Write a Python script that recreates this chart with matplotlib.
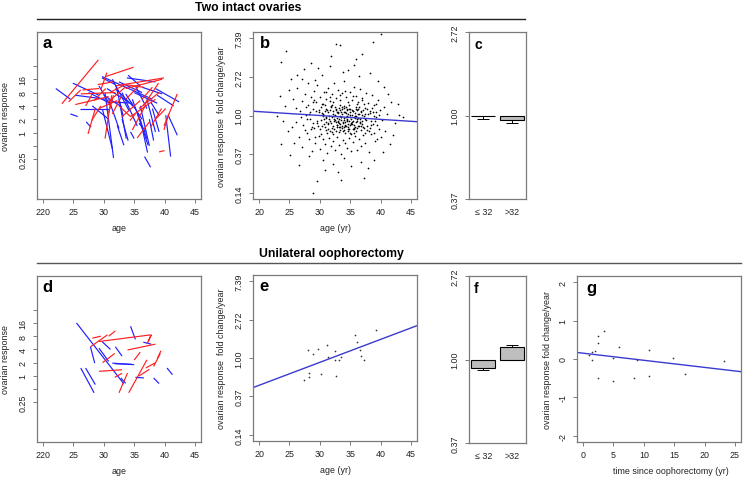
import matplotlib
matplotlib.use("Agg")
import matplotlib.pyplot as plt
from matplotlib.lines import Line2D
import numpy as np

plt.rcParams['font.family'] = ['Liberation Sans', 'DejaVu Sans']

# ---------------- data ----------------
age_ticks = [20, 25, 30, 35, 40, 45]
age_tick_labels = ['220', '25', '30', '35', '40', '45']
resp_ticks = [-2, -1, 0, 1, 2, 3, 4, 5]          # log2 of ovarian response
resp_tick_labels = ['0.25', '', '1', '2', '4', '8', '16', '']
fold_ticks = [-2, -1, 0, 1, 2]                    # ln of fold change/year
fold_tick_labels = ['0.14', '0.37', '1.00', '2.72', '7.39']
bar_groups = ['\u2264 32', '>32']

# panel a: individual trajectories (age, log2 response)
a_red = [
    ([23.1, 29.1], [2.16, 5.45]), ([24.2, 26.2], [2.3, 3.2]), ([30.3, 34.9], [4.2, 4.9]),
    ([31.9, 39.9], [3.5, 4.1]), ([27.4, 28.6], [-0.1, 1.8]), ([30.2, 31.3], [-0.45, 2.8]),
    ([34.7, 36.8], [0.2, 2.0]), ([37.7, 39.5], [0.4, 1.8]), ([39.9, 42.1], [0.5, 2.9]),
    ([39.1, 40.0], [-1.45, -1.35]), ([32.5, 34.4, 38.5], [2.0, 1.2, 2.5]), ([28.4, 30.3], [2.4, 3.3]),
    ([25.3, 30.8], [2.1, 2.7]), ([26.2, 31.9], [2.9, 3.0]), ([39.9, 40.7], [0.2, 1.4]),
    ([33.6, 39.6], [3.3, 4.0]), ([33.6, 35.8], [2.5, 3.5]), ([29.2, 32.2], [1.8, 2.4]),
    ([31.4, 33.0], [1.4, 2.8]), ([35.8, 39.1], [1.8, 3.0]), ([34.3, 35.2], [0.9, 1.4]),
    ([26.5, 29.2], [3.2, 3.3]), ([36.3, 38.0], [2.5, 3.4]), ([29.0, 31.5], [3.6, 3.8]),
    ([38.5, 40.2], [1.0, 1.8]), ([30.8, 31.6], [1.5, 2.8]), ([31.0, 33.5, 36.5], [3.0, 3.6, 3.4]),
    ([28.0, 29.5], [0.9, 2.0]), ([33.0, 36.0], [1.2, 2.4]), ([36.5, 39.0], [2.0, 3.7]),
    ([30.5, 33.5], [2.2, 3.4]), ([27.0, 28.0], [2.0, 2.8]), ([35.5, 37.5], [-0.4, 0.8]),
    ([29.5, 30.5], [3.2, 4.5]),
]
a_blue = [
    ([22.1, 24.5], [3.3, 2.5]), ([24.5, 25.7], [1.4, 1.2]), ([24.9, 29.2], [3.7, 2.8]),
    ([29.7, 38.0], [4.2, 2.5]), ([31.4, 34.2], [4.0, 1.6]), ([30.2, 31.6], [3.0, -1.9]),
    ([29.8, 31.4], [1.7, -1.2]), ([32.5, 33.7], [2.5, -0.45]), ([34.7, 37.3], [2.5, -0.95]),
    ([36.7, 37.7], [-1.8, -2.6]), ([40.2, 41.0], [1.3, -1.8]), ([40.6, 42.1], [1.3, -0.2]),
    ([38.5, 42.4], [3.3, 2.3]), ([33.8, 38.5], [4.1, 3.8]), ([26.0, 30.8], [1.8, 1.8]),
    ([27.1, 27.9], [0.8, 0.4]), ([35.8, 36.9], [0.7, 0.05]), ([25.3, 30.3], [2.8, 2.5]),
    ([29.7, 31.9], [4.1, 3.6]), ([31.9, 35.2], [3.3, 1.8]), ([33.6, 36.3], [2.9, 1.0]),
    ([37.1, 38.5], [2.5, 0.05]), ([37.7, 39.1], [2.3, 1.3]), ([30.8, 32.5], [2.5, 0.3]),
    ([29.2, 31.1], [3.5, 2.0]), ([32.2, 33.3], [0.55, -0.95]), ([35.5, 37.1], [1.5, -0.45]),
    ([34.4, 35.0], [0.05, -0.45]), ([36.3, 39.6], [3.4, 2.9]), ([30.5, 34.1], [3.3, 2.3]),
    ([28.1, 30.8], [2.0, 1.0]), ([38.0, 39.1], [1.8, 0.05]), ([32.5, 36.3], [3.8, 3.0]),
    ([31.4, 34.7], [2.3, 2.2]), ([35.2, 37.1], [3.5, 1.8]), ([36.0, 37.2], [1.0, -1.5]),
    ([33.0, 34.0], [1.0, -0.6]), ([36.0, 37.5], [2.0, -1.0]), ([33.0, 35.5], [3.0, 0.5]),
    ([37.5, 38.2], [1.0, -0.6]), ([27.5, 31.0], [3.0, 2.2]), ([34.0, 36.0], [4.3, 3.5]),
    ([38.8, 41.5], [2.8, 2.0]), ([30.0, 33.0], [2.8, 1.9]), ([35.0, 38.8], [3.0, 2.2]),
    ([32.0, 33.2], [3.5, 1.2]),
]

# panel b: per-patient fold change/year (ln) vs age
b_age = [
    30.2, 30.5, 30.8, 31.0, 31.1, 31.3, 31.4, 31.6, 31.7, 31.9, 32.0, 32.1, 32.2, 32.3, 32.4, 32.5, 32.6, 32.7, 32.8, 32.9,
    33.0, 33.0, 33.1, 33.2, 33.3, 33.4, 33.5, 33.5, 33.6, 33.7, 33.8, 33.9, 34.0, 34.0, 34.1, 34.2, 34.3, 34.4, 34.5, 34.6,
    34.7, 34.8, 34.9, 35.0, 35.1, 35.2, 35.3, 35.4, 35.5, 35.6, 35.7, 35.8, 35.9, 36.0, 36.1, 36.2, 36.3, 36.5, 36.6, 36.8,
    37.0, 37.2, 37.4, 30.4, 30.9, 31.2, 31.5, 31.8, 32.2, 32.5, 32.9, 33.3, 33.6, 34.0, 34.3, 34.6, 34.9, 35.2, 35.5, 35.9,
    36.3, 36.7, 37.1, 37.5, 30.6, 31.4, 32.0, 32.7, 33.4, 34.2, 34.8, 35.6, 36.4, 33.1, 33.9, 34.4, 35.0, 33.2, 34.1, 34.7,
    32.4, 33.7, 35.3, 36.0, 31.0, 32.8, 34.5, 35.8, 36.9, 30.0,
    25.6, 26.0, 26.3, 26.5, 26.8, 27.0, 27.1, 27.3, 27.5, 27.7, 27.9, 28.0, 28.1, 28.3, 28.4, 28.6, 28.7, 28.9, 29.0, 29.1,
    29.2, 29.4, 29.5, 29.6, 29.8, 29.9, 30.0, 30.1, 30.3, 30.5, 30.7, 30.8, 31.0, 31.2, 31.3, 31.5, 31.6, 31.8, 32.0, 32.1,
    32.3, 32.5, 32.6, 32.8, 33.0, 33.1, 33.3, 33.5, 33.6, 33.8, 34.0, 34.1, 34.3, 34.5, 34.6, 34.8, 35.0, 35.1, 35.3, 35.5,
    35.6, 35.8, 36.0, 36.1, 36.3, 36.5, 36.6, 36.8, 37.0, 37.1, 37.3, 37.5, 37.6, 37.8, 38.0, 38.1, 38.3, 38.5, 38.6, 38.8,
    39.0, 39.1, 39.3, 39.5, 39.7, 39.9, 40.1, 40.3, 40.5, 40.8, 41.0, 37.9, 38.4, 38.9, 39.4, 39.8, 37.7, 38.2, 38.7, 39.2,
    26.9, 27.6, 28.2, 28.8, 29.3, 29.7, 30.2, 30.9, 31.7, 36.2, 36.9, 37.4, 35.4, 34.2, 33.4, 32.2, 31.1, 29.0, 28.5, 27.8,
    40.1, 38.7, 24.5, 23.6, 32.7, 33.4, 37.0, 34.7, 29.7, 29.6, 28.9, 33.5, 37.3, 43.1, 41.6, 23.6, 25.1, 23.0, 23.4, 43.7,
    24.2, 24.8, 25.3, 26.2, 27.4, 28.6, 30.4, 31.6, 33.8, 35.6, 36.4, 38.2, 39.6, 40.6, 41.8, 42.3, 42.0, 40.4, 39.0, 36.8,
    35.2, 34.0, 32.1, 30.6, 28.2, 26.6, 25.8, 24.9, 31.9, 35.9, 27.0, 29.2, 42.8, 41.3, 24.0, 37.9, 33.0, 30.9, 26.1, 25.4,
    31.05, 31.35, 31.65, 31.95, 32.15, 32.45, 32.75, 33.05, 33.25, 33.45, 33.65, 33.85, 34.05, 34.25, 34.45, 34.65, 34.85, 35.05, 35.25, 35.45,
    35.65, 35.85, 36.05, 36.25, 36.45, 36.65, 36.85, 37.05, 37.25, 37.45, 30.35, 30.65, 30.95, 31.25, 31.55, 31.85, 32.05, 32.35, 32.65, 32.95,
    33.15, 33.35, 33.55, 33.75, 33.95, 34.15, 34.35, 34.55, 34.75, 34.95, 35.15, 35.35, 35.55, 35.75, 35.95, 36.15, 36.35, 36.55, 36.75, 36.95,
    29.55, 29.85, 30.15, 30.45, 30.75, 37.65, 37.85, 38.05, 38.25, 38.45, 28.35, 28.65, 28.95, 29.25, 38.65, 38.85, 39.05, 39.25, 39.45, 27.85,
]
b_fold = [
    -0.12, 0.05, -0.31, 0.18, -0.05, -0.22, 0.09, -0.40, -0.14, 0.21, -0.03, -0.27, 0.12, -0.09, -0.36, 0.02, -0.18, 0.15, -0.07, -0.29,
    0.06, -0.15, -0.42, 0.19, -0.02, -0.23, 0.10, -0.11, -0.33, 0.03, -0.19, 0.24, -0.06, -0.38, 0.08, -0.16, -0.26, 0.13, -0.01, -0.30,
    0.05, -0.13, -0.45, 0.17, -0.08, -0.21, 0.01, -0.35, 0.11, -0.04, -0.25, 0.07, -0.17, -0.40, 0.14, -0.10, -0.28, 0.03, -0.20, 0.09,
    -0.14, -0.33, 0.04, -0.26, 0.12, -0.44, 0.00, -0.20, -0.48, 0.23, 0.08, -0.31, 0.16, 0.20, -0.04, -0.21, 0.09, -0.47, -0.15, 0.18,
    -0.06, -0.37, 0.15, -0.09, -0.02, -0.34, 0.27, -0.40, 0.28, -0.46, 0.26, -0.32, 0.22, -0.08, -0.12, -0.09, -0.24, -0.20, -0.28, -0.36,
    -0.13, -0.26, -0.18, -0.01, -0.17, -0.24, 0.16, -0.29, -0.22, -0.35,
    0.42, -0.18, 0.71, -0.55, 0.12, 0.38, -0.82, -0.25, 0.55, 0.02, -0.44, 0.85, 0.28, -0.61, -0.09, 0.47, -0.93, 0.18, -0.33, 0.64,
    -0.70, 0.35, -0.15, 0.78, -0.52, 0.08, 0.49, -0.86, 0.31, -0.60, 0.60, -0.75, 0.42, -0.97, 0.70, -0.58, 0.37, -0.80, 0.55, -0.66,
    0.83, -0.90, 0.44, -0.55, 0.66, -0.77, 0.39, -0.99, 0.58, -0.63, 0.88, -0.71, 0.47, -0.84, 0.34, -0.57, 0.62, -0.92, 0.41, -0.69,
    0.75, -0.53, 0.51, -0.88, 0.36, -0.62, 0.68, -0.79, 0.45, -0.51, 0.29, -0.72, 0.57, -0.38, 0.33, -0.95, 0.12, -0.48, 0.52, -0.21,
    0.26, -0.66, -0.05, 0.40, -0.34, 0.15, -0.56, -0.12, 0.22, -0.41, 0.05, 0.05, -0.15, -0.02, -0.25, 0.02, -0.28, -0.32, 0.10, 0.08,
    -0.05, -0.38, 0.05, -0.20, 0.12, -0.28, 0.22, 0.28, 0.48, 0.30, 0.40, -0.45, 0.50, 0.63, 0.52, 0.35, 0.62, 0.40, -0.35, 0.22,
    2.12, 1.89, 1.67, 1.39, 1.86, 1.82, 1.58, 1.17, 1.22, -1.70, -2.00, -1.66, -1.62, 0.01, -0.73, -0.73, -1.02, 0.00, 0.50, -0.03,
    0.25, -0.40, 0.95, 1.05, 1.20, 1.35, 1.05, 1.28, 1.12, 1.30, 1.02, 1.10, 0.90, 0.75, 0.35, -0.20, -0.50, -0.95, -1.15, -1.20,
    -1.30, -1.10, -1.25, -1.15, -1.05, -1.28, -0.70, 0.65, 1.55, 1.45, 0.95, 0.92, 0.30, 0.55, -0.15, -1.35, -1.45, -1.40, 0.20, -0.30,
    -0.06, -0.19, 0.14, -0.33, 0.04, -0.11, -0.25, 0.10, -0.38, -0.03, 0.21, -0.16, -0.29, 0.07, -0.12, -0.41, 0.18, -0.05, -0.22, 0.12,
    -0.35, 0.00, -0.14, 0.16, -0.27, -0.08, 0.11, -0.31, -0.02, 0.19, 0.06, -0.21, -0.37, 0.14, -0.10, 0.25, -0.43, -0.01, 0.17, -0.16,
    -0.30, 0.13, -0.05, -0.40, 0.08, -0.24, 0.21, -0.13, -0.34, 0.02, -0.19, 0.15, -0.45, -0.07, 0.23, -0.32, 0.05, -0.17, -0.26, 0.01,
    -0.20, 0.15, -0.48, 0.30, -0.09, -0.12, 0.18, -0.40, 0.06, -0.24, 0.10, -0.30, 0.36, -0.55, 0.20, -0.45, -0.15, 0.30, -0.60, -0.10,
]
b_fit = (0.11, -0.010)   # ln value at age 19, slope per year

# panel c / f: mean ln fold change/year by age group, lower/upper error
c_mean = [-0.008, -0.055]
c_err = [0.028, 0.030]
f_mean = [-0.100, 0.150]
f_err = [0.030, 0.020]

# panel d: trajectories after unilateral oophorectomy
d_red = [
    ([28.1, 29.5], [2.85, 3.0]), ([27.8, 30.6], [2.2, 3.1]), ([29.2, 37.7], [2.6, 3.1]),
    ([30.8, 31.9], [3.0, 3.4]), ([33.9, 38.5], [1.96, 2.4]), ([35.0, 36.0], [1.2, 1.8]),
    ([29.8, 31.8], [1.0, 1.7]), ([29.2, 33.0], [0.35, 0.47]), ([31.8, 33.0], [-0.1, 0.2]),
    ([32.5, 33.9], [-1.27, 0.22]), ([34.1, 37.1], [-1.27, 1.22]), ([35.8, 37.5], [0.0, 0.5]),
    ([38.2, 39.3], [0.72, 1.7]), ([38.8, 39.4], [1.3, 1.9]), ([36.9, 38.5], [0.6, 1.0]),
    ([37.1, 37.8, 37.3], [2.4, 3.1, 2.6]),
]
d_blue = [
    ([25.5, 33.3], [4.0, -0.6]), ([34.4, 35.2], [3.75, 2.76]), ([27.8, 28.5], [2.2, 0.97]),
    ([29.2, 30.8], [2.1, 1.1]), ([29.7, 31.1], [2.6, 2.0]), ([31.9, 33.0], [2.2, 1.5]),
    ([31.4, 35.0], [0.97, 0.85]), ([31.8, 34.6], [0.92, 0.88]), ([26.2, 28.4], [0.6, -1.27]),
    ([27.0, 28.6], [0.6, -0.65]), ([35.2, 36.6], [-0.1, -0.15]), ([38.2, 39.1], [-0.15, -0.57]),
    ([40.4, 41.3], [0.6, 0.1]), ([36.5, 37.8], [2.55, 2.4]), ([32.8, 33.6], [-0.15, -0.55]),
]

# panel e
e_age = [28.1, 28.8, 29.75, 31.2, 32.5, 31.4, 32.5, 33.2, 33.5, 35.8, 36.2, 36.6, 36.7, 37.3, 39.2,
         28.2, 28.2, 27.4, 30.2, 32.7]
e_fold = [0.20, 0.10, 0.24, 0.33, 0.19, 0.03, -0.04, -0.04, 0.03, 0.59, 0.41, 0.21, 0.06, -0.04, 0.73,
          -0.39, -0.49, -0.57, -0.42, -0.47]
e_fit = (-0.77, 0.0597)

# panel g
g_time = [3.5, 2.5, 2.5, 2.0, 1.5, 1.0, 5.9, 10.9, 4.9, 1.4, 8.8, 14.8, 2.5, 4.9, 8.4, 10.9, 16.8, 23.2]
g_fold = [0.72, 0.59, 0.42, 0.21, 0.19, 0.10, 0.32, 0.23, 0.03, -0.03, -0.03, 0.02, -0.49, -0.58, -0.49,
          -0.43, -0.38, -0.06]
g_fit = (0.17, -0.0185)   # value at time -1, slope per year

# ---------------- styling helpers ----------------
RED = '#ff1f1f'
BLUE = '#1f1fff'
FIT = '#3a3ad0'
SPINE = '#7a7a7a'
TXT = '#222222'
FS = 6.4

fig = plt.figure(figsize=(7.45, 4.81), dpi=100)

def px_axes(x0, y0, x1, y1):
    W, H = 745.0, 481.0
    return fig.add_axes([x0 / W, 1 - y1 / H, (x1 - x0) / W, (y1 - y0) / H])

def style(ax, xt, xtl, yt, ytl, xlabel=None, ylabel=None, xtick_len=3.0,
          ylab_x=-0.162, xlab_y=-0.145):
    for s in ax.spines.values():
        s.set_color(SPINE)
        s.set_linewidth(0.9)
    ax.set_xticks(xt)
    ax.set_xticklabels(xtl, fontsize=FS, color=TXT)
    ax.set_yticks(yt)
    ax.set_yticklabels(ytl, fontsize=FS, color=TXT, rotation=90, va='center')
    ax.tick_params(axis='x', length=xtick_len, width=0.7, color=SPINE, pad=3)
    ax.tick_params(axis='y', length=3.0, width=0.7, color=SPINE, pad=4)
    if xlabel:
        ax.set_xlabel(xlabel, fontsize=FS, color=TXT)
        ax.xaxis.set_label_coords(0.5, xlab_y)
    if ylabel:
        ax.set_ylabel(ylabel, fontsize=FS, color=TXT)
        ax.yaxis.set_label_coords(ylab_x, 0.5)

def letter(ax, s, x, y, size):
    ax.text(x, y, s, transform=ax.transAxes, fontsize=size, fontweight='bold',
            ha='left', va='center', color='black')

def traj_panel(ax, reds, blues, let):
    for xs, ys in blues:
        ax.plot(xs, ys, color=BLUE, lw=0.85, solid_capstyle='butt')
    for xs, ys in reds:
        ax.plot(xs, ys, color=RED, lw=0.85, solid_capstyle='butt')
    ax.set_xlim(19, 46)
    ax.set_ylim(-4.98, 7.54)
    style(ax, age_ticks, age_tick_labels, resp_ticks, resp_tick_labels,
          xlabel='age', ylabel='ovarian response')
    letter(ax, let, 0.035, 0.935, 12)

def scatter_panel(ax, xs, ys, fit, let):
    ax.scatter(xs, ys, s=1.5, color='black', linewidths=0)
    ax.set_xlim(19, 46)
    ax.set_ylim(-2.16, 2.16)
    xx = np.array([19, 46])
    ax.plot(xx, fit[0] + fit[1] * (xx - 19), color=FIT, lw=1.0)
    style(ax, age_ticks, [str(t) for t in age_ticks], fold_ticks, fold_tick_labels,
          xlabel='age (yr)', ylabel='ovarian response  fold change/year')
    letter(ax, let, 0.04, 0.935, 12)

def bar_panel(ax, means, errs, let):
    pos = [0.7, 1.9]
    ax.bar(pos, means, width=1.0, color='#bebebe', edgecolor='black', linewidth=0.8)
    for p, m, e in zip(pos, means, errs):
        if m >= 0:
            yerr = [[0], [e]]
        else:
            yerr = [[e], [0]]
        ax.errorbar([p], [m], yerr=yerr, fmt='none', ecolor='black', elinewidth=0.7,
                    capsize=4, capthick=0.7)
    ax.set_xlim(0.1, 2.5)
    ax.set_ylim(-1, 1)
    style(ax, pos, bar_groups, [-1, 0, 1], ['0.37', '1.00', '2.72'], xtick_len=0)
    ax.tick_params(axis='x', pad=6)
    letter(ax, let, 0.09, 0.93, 10)

# ---------------- panels ----------------
ax_a = px_axes(37, 33, 201, 200)
traj_panel(ax_a, a_red, a_blue, 'a')

ax_b = px_axes(253, 33, 417, 200)
scatter_panel(ax_b, b_age, b_fold, b_fit, 'b')

ax_c = px_axes(469, 33, 526, 200)
bar_panel(ax_c, c_mean, c_err, 'c')

ax_d = px_axes(37, 277, 201, 443)
traj_panel(ax_d, d_red, d_blue, 'd')

ax_e = px_axes(253, 276, 417, 442)
ax_e.scatter(e_age, e_fold, s=1.5, color='#333333', linewidths=0)
ax_e.set_xlim(19, 46)
ax_e.set_ylim(-2.16, 2.16)
xx = np.array([19, 46])
ax_e.plot(xx, e_fit[0] + e_fit[1] * (xx - 19), color=FIT, lw=1.0)
style(ax_e, age_ticks, [str(t) for t in age_ticks], fold_ticks, fold_tick_labels,
      xlabel='age (yr)', ylabel='ovarian response  fold change/year')
letter(ax_e, 'e', 0.04, 0.935, 12)

ax_f = px_axes(469, 277, 526, 444)
bar_panel(ax_f, f_mean, f_err, 'f')

ax_g = px_axes(577, 277, 741, 443)
ax_g.scatter(g_time, g_fold, s=1.5, color='#333333', linewidths=0)
ax_g.set_xlim(-1, 26)
ax_g.set_ylim(-2.16, 2.16)
tt = np.array([-1, 26])
ax_g.plot(tt, g_fit[0] + g_fit[1] * (tt + 1), color=FIT, lw=1.0)
style(ax_g, [0, 5, 10, 15, 20, 25], ['0', '5', '10', '15', '20', '25'],
      [-2, -1, 0, 1, 2], ['-2', '-1', '0', '1', '2'],
      xlabel='time since oophorectomy (yr)', ylabel='ovarian response fold change/year',
      ylab_x=-0.155)
ax_g.xaxis.set_label_coords(0.57, -0.145)
letter(ax_g, 'g', 0.055, 0.93, 12)

# ---------------- section headers ----------------
fig.text(248 / 745, 1 - 8 / 481, 'Two intact ovaries', ha='center', va='center',
         fontsize=8.8, fontweight='bold', color='black')
fig.add_artist(Line2D([37 / 745, 525 / 745], [1 - 20 / 481, 1 - 20 / 481],
                      transform=fig.transFigure, color='#222222', lw=1.0))
fig.text(331.5 / 745, 1 - 254 / 481, 'Unilateral oophorectomy', ha='center', va='center',
         fontsize=8.8, fontweight='bold', color='black')
fig.add_artist(Line2D([37 / 745, 741 / 745], [1 - 264 / 481, 1 - 264 / 481],
                      transform=fig.transFigure, color='#555555', lw=1.0))

fig.savefig('out.png', dpi=100)
